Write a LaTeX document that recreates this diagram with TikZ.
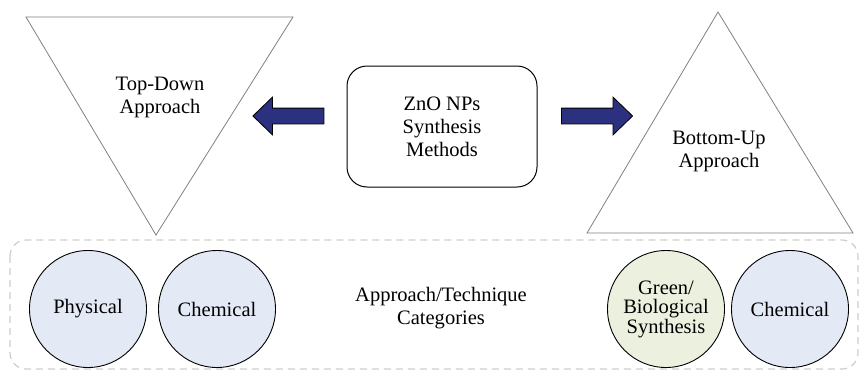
\documentclass[tikz,border=0pt]{standalone}
\usepackage{fontspec}
\setmainfont{Liberation Serif}
\usetikzlibrary{shapes.arrows}
\definecolor{arrowblue}{HTML}{2B307F}
\definecolor{circblue}{HTML}{E3EAF5}
\definecolor{circgreen}{HTML}{EBF1DE}
\definecolor{dashgray}{HTML}{CFCEC4}
\definecolor{trigray}{HTML}{808080}
\tikzset{
  lbl/.style={align=center, font=\fontsize{20.5}{23}\selectfont, inner sep=0pt},
  tri/.style={draw=trigray, line width=0.8pt, line join=miter},
  catcircle/.style={circle, draw=black, line width=0.9pt, minimum size=117pt, inner sep=0pt, align=center, font=\fontsize{20.5}{19.5}\selectfont},
  blockarrow/.style={single arrow, draw=black, line width=0.8pt, fill=arrowblue,
    minimum height=71pt, minimum width=37pt, inner xsep=0pt, inner ysep=7.5pt,
    single arrow head extend=11pt, single arrow tip angle=88},
}
\begin{document}
\begin{tikzpicture}[x=1pt, y=-1pt]
\useasboundingbox (0,0) rectangle (861,370);
% container
\draw[dashgray, line width=1.2pt, dash pattern=on 7pt off 5pt, rounded corners=16pt]
  (10,240) rectangle (858,369);
% top-down triangle
\coordinate (tdA) at (26,17);
\coordinate (tdB) at (293,17);
\coordinate (tdC) at (156,235);
\draw[tri] (tdA) -- (tdB) -- (tdC) -- cycle;
\node[lbl] (td) at (160,97) {Top-Down\\Approach};
% bottom-up triangle
\coordinate (buA) at (718,12);
\coordinate (buB) at (853,233);
\coordinate (buC) at (587,233);
\draw[tri] (buA) -- (buB) -- (buC) -- cycle;
\node[lbl] (bu) at (719,151) {Bottom-Up\\Approach};
% centre box
\node[lbl, draw=black, line width=1pt, rounded corners=20pt, minimum width=190pt, minimum height=121pt] (zno) at (442,126.5) {ZnO NPs\\Synthesis\\Methods};
% arrows
\node[blockarrow, shape border rotate=180] (larr) at (292.5,116) {};
\node[blockarrow] (rarr) at (593,116) {};
% category label
\node[lbl] (cat) at (441,308.5) {Approach/Technique\\Categories};
% circles
\node[catcircle, fill=circblue] (phys) at (88,309) {Physical};
\node[catcircle, fill=circblue] (chem1) at (217,309) {Chemical};
\node[catcircle, fill=circgreen] (green) at (666,309) {Green/\\Biological\\Synthesis};
\node[catcircle, fill=circblue] (chem2) at (790,309) {Chemical};
\end{tikzpicture}
\end{document}
